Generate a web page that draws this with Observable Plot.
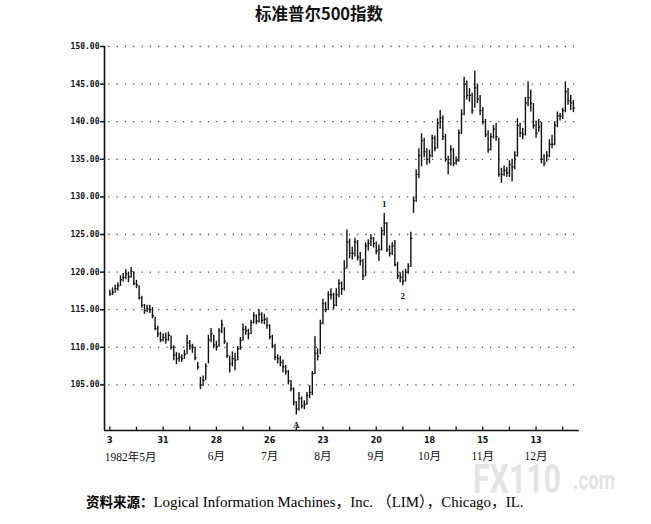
<!DOCTYPE html>
<html>
<head>
<meta charset="utf-8">
<script src="https://cdn.jsdelivr.net/npm/d3@7"></script>
<script src="https://cdn.jsdelivr.net/npm/@observablehq/plot@0.6"></script>
<style>
  body { margin:0; width:651px; height:524px; background:#fff; position:relative; overflow:hidden; }
  #title { height:32px; line-height:27px; text-align:center; padding-right:13px; font-family:"Noto Sans CJK SC"; font-weight:700; font-size:16.5px; color:#111; }
  #chart { position:relative; z-index:1; }
  #caption { position:absolute; left:86px; top:492px; font-size:14.9px; line-height:19px; color:#000; font-family:"Liberation Serif","Noto Sans CJK SC"; white-space:nowrap; z-index:1; }
  #caption b { font-family:"Noto Sans CJK SC"; font-weight:700; font-size:13.5px; }
  #wm { position:absolute; left:0; top:0; z-index:0; }
</style>
</head>
<body>
<svg id="wm" width="651" height="524">
  <text x="473" y="493" font-family="Roboto" font-weight="700" font-size="40" fill="#e4e4e4"><tspan textLength="88" lengthAdjust="spacingAndGlyphs">FX110</tspan><tspan x="573" y="489" font-size="26" textLength="42" lengthAdjust="spacingAndGlyphs">.com</tspan></text>
</svg>
<div id="title">标准普尔500指数</div>
<div id="chart"></div>
<div id="caption"><b>资料来源：</b>Logical Information Machines，Inc. （LIM），Chicago，IL.</div>
<script>
// Daily bars, 3 May 1982 – 31 Dec 1982 (trading-day index)
const closes = [
117.1,117.3,117.8,118.2,119.0,119.3,119.8,119.4,120.1,118.5,
118.3,116.6,115.6,114.9,115.1,115.0,114.2,112.5,111.8,111.0,
111.3,111.0,111.6,110.0,109.0,108.5,108.7,108.5,109.1,110.6,
110.2,110.0,108.6,107.4,105.0,105.6,107.5,111.0,111.8,110.3,
110.1,112.2,113.0,110.8,108.9,107.8,108.5,108.3,109.8,110.9,
112.4,112.2,111.8,113.3,114.2,113.5,114.4,113.6,113.7,112.9,
111.4,110.2,108.7,108.5,108.0,107.4,106.8,105.5,104.5,102.7,
101.8,103.2,102.2,102.4,103.6,104.0,106.5,109.2,108.8,113.2,
115.8,115.0,117.0,117.0,115.6,117.0,118.5,117.8,120.5,124.0,
122.5,122.5,124.0,122.0,121.5,119.5,123.5,123.8,124.5,123.8,
122.8,123.0,125.5,126.5,123.0,122.5,123.5,121.0,119.5,119.3,
118.8,120.0,120.8,124.5,129.5,133.0,135.5,137.5,136.0,135.0,
135.5,137.8,136.5,139.8,140.5,138.0,135.0,134.5,136.3,134.5,
134.8,138.5,141.0,145.0,143.5,143.5,141.5,144.5,143.0,141.5,
140.0,138.3,136.3,138.0,139.0,138.0,133.0,133.0,133.5,133.2,
134.3,134.0,135.5,139.5,138.5,138.3,142.5,143.2,142.5,139.5,
138.5,139.3,135.0,134.5,135.5,137.0,137.0,139.5,140.8,140.7,
141.5,144.0,142.8,142.5,141.8];
const highs = [
117.6,117.9,118.3,118.6,119.5,119.8,120.3,120.0,120.6,120.0,
118.9,118.2,116.8,115.7,115.6,115.6,115.3,114.0,112.8,112.0,
111.8,111.9,112.0,111.5,110.2,109.3,109.2,109.0,109.6,111.6,
110.9,110.4,110.0,108.0,106.0,106.2,107.8,111.6,112.5,111.6,
110.8,112.5,113.6,112.6,110.6,108.8,109.4,109.2,110.1,111.3,
113.1,112.8,112.4,113.6,114.6,114.3,115.0,114.6,114.4,113.9,
113.0,111.6,110.4,109.0,108.8,108.3,107.6,106.9,105.6,104.6,
102.8,104.0,103.4,102.9,104.0,104.9,106.8,111.4,109.8,113.6,
116.4,116.0,117.4,117.8,117.2,117.8,119.0,118.7,121.5,125.6,
124.4,123.3,124.5,124.2,122.6,121.7,123.9,124.3,125.0,124.6,
124.0,123.6,125.9,127.8,126.6,123.5,123.9,124.2,121.3,119.9,
120.1,120.4,121.1,125.3,130.0,133.6,136.4,138.4,137.8,136.4,
136.2,138.2,138.1,140.4,141.5,140.8,138.3,135.4,136.8,136.4,
135.3,138.9,141.6,145.9,145.4,144.4,143.8,146.7,145.0,143.5,
141.9,140.3,138.8,138.4,139.5,139.8,137.8,133.8,134.1,133.9,
134.8,135.0,136.0,140.4,139.8,139.1,143.2,145.3,144.2,142.4,
140.1,140.3,139.9,135.6,136.0,137.6,138.2,140.0,141.3,141.1,
141.8,145.3,144.4,143.5,142.8];
const lows = [
116.8,116.9,117.2,117.5,118.1,118.7,119.0,118.6,119.2,118.2,
117.8,116.3,115.2,114.4,114.6,114.5,113.8,112.2,111.3,110.6,
110.7,110.4,110.8,109.6,108.2,107.7,108.0,108.0,108.4,109.0,
109.6,109.2,108.2,107.0,104.4,104.8,105.6,107.8,110.6,109.8,
109.5,110.0,111.8,110.4,108.5,106.6,107.4,106.9,108.2,109.6,
110.8,111.6,111.0,111.7,113.1,113.0,113.2,113.1,113.0,112.4,
111.0,109.8,108.2,107.8,107.4,106.6,106.3,105.0,104.1,102.2,
101.0,101.5,101.8,101.7,102.3,103.2,103.6,106.4,108.2,109.0,
113.0,114.6,114.9,116.3,115.0,115.4,116.6,116.9,117.5,120.4,
121.8,121.6,122.0,121.5,120.8,118.9,119.4,122.8,123.4,123.2,
122.3,121.4,122.8,124.8,122.6,122.0,122.2,120.7,119.0,118.6,
118.2,118.7,119.7,120.6,127.8,129.3,132.4,134.0,135.2,134.2,
134.4,135.2,136.0,136.4,139.0,137.5,134.6,132.9,134.1,134.0,
134.2,134.6,138.3,140.8,142.9,142.6,141.0,141.8,142.4,140.8,
139.6,137.9,135.8,136.1,137.7,137.4,132.6,131.8,132.7,132.6,
132.6,132.0,133.6,135.3,137.9,137.6,138.1,142.0,141.3,139.0,
137.8,138.6,134.4,134.0,134.6,135.2,136.4,136.8,139.2,140.1,
140.3,141.2,142.2,141.5,141.2];

const yTicks = [105,110,115,120,125,130,135,140,145,150];
const xTickDays = [0,10,20,30,40,50,60,70,80,90,100,110,120,130,140,150,160,170];
const labelDays = [0,20,40,60,80,100,120,140,160];
const dayLabels = ["3","31","28","26","23","20","18","15","13"];
const monthDays = [0,40,60,80,100,120,140,160];
const monthLabels = ["1982年5月","6月","7月","8月","9月","10月","11月","12月"];
const annoDays = [70,103,110];
const annoText = ["A","1","2"];
const annoSide = ["below","above","below"];

const yMin = 98.94, yMax = 150, xMin = -2, xMax = 176.3;

const bars = closes.map((c, i) => ({d: i, close: c, high: highs[i], low: lows[i]}));
const dayLabelMap = new Map(labelDays.map((d, i) => [d, dayLabels[i]]));
const months = monthDays.map((d, i) => ({d, label: monthLabels[i]}));
const annos = annoDays.map((d, i) => ({
  d, text: annoText[i], side: annoSide[i],
  y: annoSide[i] === "below" ? lows[d] : highs[d]
}));
const monthFont = {fontSize: 11.5, fontFamily: "Liberation Serif, Noto Sans CJK SC", fill: "#111"};
const annoFont = {fontSize: 9, fontWeight: 700, fontFamily: "Liberation Serif", fill: "#111"};

const chart = Plot.plot({
  width: 651, height: 450,
  marginTop: 14, marginBottom: 52, marginLeft: 104, marginRight: 72,
  x: {domain: [xMin, xMax]},
  y: {domain: [yMin, yMax]},
  style: {background: "transparent", color: "#111"},
  marks: [
    Plot.ruleY(yTicks, {x1: -0.4, x2: xMax, stroke: "#444", strokeWidth: 1.3, strokeDasharray: "1.2,7.1"}),
    Plot.ruleX([xMin], {y1: yMin, y2: yMax, stroke: "#111", strokeWidth: 1.6}),
    Plot.ruleY([yMin], {x1: xMin, x2: xMax, stroke: "#111", strokeWidth: 1.6}),
    Plot.ruleX(xTickDays, {y1: yMin, y2: yMin + 0.45, stroke: "#111", strokeWidth: 1.3}),
    Plot.axisY({ticks: yTicks, tickFormat: d => d.toFixed(2), tickSize: 4, tickPadding: 1,
      fontSize: 8, fontFamily: "DejaVu Sans Mono", fontWeight: 600, strokeWidth: 1.5}),
    Plot.axisX({ticks: labelDays, tickFormat: d => dayLabelMap.get(d), tickSize: 0, tickPadding: 7,
      fontSize: 8, fontFamily: "DejaVu Sans", fontWeight: 700, label: null}),
    Plot.text(months.filter(m => m.d === 0), {x: "d", y: yMin, text: "label", dy: 27, dx: -5,
      textAnchor: "start", ...monthFont}),
    Plot.text(months.filter(m => m.d !== 0), {x: "d", y: yMin, text: "label", dy: 26,
      textAnchor: "middle", ...monthFont}),
    Plot.ruleX(bars, {x: "d", y1: "low", y2: "high", stroke: "#111", strokeWidth: 1.4}),
    Plot.ruleY(bars, {y: "close", x1: "d", x2: d => d.d + 0.75, stroke: "#111", strokeWidth: 1.3}),
    Plot.text(annos.filter(a => a.side === "below"), {x: "d", y: "y", text: "text", dy: 10, ...annoFont}),
    Plot.text(annos.filter(a => a.side === "above"), {x: "d", y: "y", text: "text", dy: -9, ...annoFont})
  ]
});
document.getElementById("chart").appendChild(chart);
</script>
</body>
</html>
